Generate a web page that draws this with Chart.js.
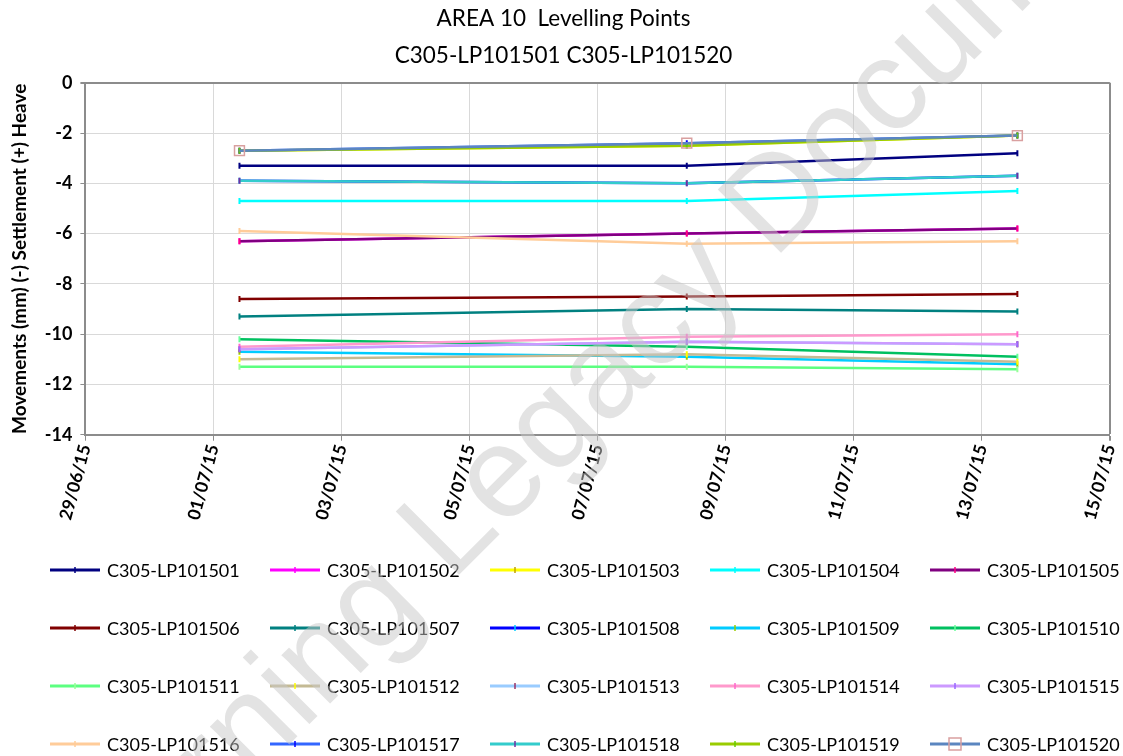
<!DOCTYPE html>
<html>
<head>
<meta charset="utf-8">
<script src="https://cdn.jsdelivr.net/npm/chart.js@4.4.1/dist/chart.umd.min.js"></script>
<style>
html, body { margin: 0; padding: 0; background: #fff; overflow: hidden; }
#wrap { width: 1123px; height: 756px; }
</style>
</head>
<body>
<div id="wrap"><canvas id="chart_1" width="1123" height="756"></canvas></div>
<script>
// survey dates (x) and readings in mm per levelling point
const readDates = ['2015-07-01T09:45:00', '2015-07-08T09:25:00', '2015-07-13T13:20:00'];
const axisStart = '2015-06-29T00:00:00';

const pointNames = [
  'C305-LP101501', 'C305-LP101502', 'C305-LP101503', 'C305-LP101504', 'C305-LP101505',
  'C305-LP101506', 'C305-LP101507', 'C305-LP101508', 'C305-LP101509', 'C305-LP101510',
  'C305-LP101511', 'C305-LP101512', 'C305-LP101513', 'C305-LP101514', 'C305-LP101515',
  'C305-LP101516', 'C305-LP101517', 'C305-LP101518', 'C305-LP101519', 'C305-LP101520'
];

const lp01 = [-3.3, -3.3, -2.8];
const lp02 = [-6.3, -6.0, -5.8];
const lp03 = [-2.7, -2.5, -2.1];
const lp04 = [-4.7, -4.7, -4.3];
const lp05 = [-6.3, -6.0, -5.8];
const lp06 = [-8.6, -8.5, -8.4];
const lp07 = [-9.3, -9.0, -9.1];
const lp08 = [-3.9, -4.0, -3.7];
const lp09 = [-10.7, -10.9, -11.2];
const lp10 = [-10.2, -10.5, -10.9];
const lp11 = [-11.3, -11.3, -11.4];
const lp12 = [-11.0, -10.8, -11.1];
const lp13 = [-10.6, -10.3, -10.4];
const lp14 = [-10.5, -10.1, -10.0];
const lp15 = [-10.6, -10.3, -10.4];
const lp16 = [-5.9, -6.4, -6.3];
const lp17 = [-2.7, -2.4, -2.1];
const lp18 = [-3.9, -4.0, -3.7];
const lp19 = [-2.7, -2.5, -2.1];
const lp20 = [-2.7, -2.4, -2.1];

const seriesValues = [lp01, lp02, lp03, lp04, lp05, lp06, lp07, lp08, lp09, lp10,
                      lp11, lp12, lp13, lp14, lp15, lp16, lp17, lp18, lp19, lp20];

const lineColors = [
  '#000080', '#FF00FF', '#FFFF00', '#00FFFF', '#800080',
  '#800000', '#008080', '#0000FF', '#00CCFF', '#00C060',
  '#5CFF80', '#C4BA94', '#99CCFF', '#FF99CC', '#CC99FF',
  '#FFCC99', '#3366FF', '#33CCCC', '#99CC00', '#5B86C0'
];
const markerColors = [
  '#000080', '#FF00FF', '#C0A000', '#00FFFF', '#FF0080',
  '#800000', '#008080', '#00CCFF', '#99CC00', '#66FF99',
  '#99FF99', '#FFFF00', '#993366', '#FF66CC', '#9966FF',
  '#FFCC99', '#0000FF', '#7030A0', '#66CC00', '#D9A0A0'
];

const DAY = 86400000;
const t0 = Date.parse(axisStart);
const xDays = readDates.map(d => (Date.parse(d) - t0) / DAY);

const fmtDate = v => {
  const d = new Date(t0 + v * DAY);
  const p = n => String(n).padStart(2, '0');
  return p(d.getDate()) + '/' + p(d.getMonth() + 1) + '/' + String(d.getFullYear()).slice(2);
};

const datasets = seriesValues.map((vals, i) => {
  const last = i === seriesValues.length - 1;
  return {
    label: pointNames[i],
    data: vals.map((v, k) => ({x: xDays[k], y: v})),
    borderColor: lineColors[i],
    backgroundColor: lineColors[i],
    borderWidth: 2.5,
    pointStyle: last ? 'rect' : 'line',
    rotation: last ? 0 : 90,
    pointRadius: last ? 7 : 3,
    pointBorderWidth: last ? 1.5 : 2,
    pointBorderColor: markerColors[i],
    pointBackgroundColor: last ? 'rgba(0,0,0,0)' : markerColors[i],
    order: seriesValues.length - i,
    tension: 0
  };
});

const edgeColor = '#8C8C8C';
const gridColor = '#D9D9D9';

// legend laid out as a fixed 5-column grid like the source sheet
const gridLegend = {
  id: 'gridLegend',
  afterDraw(chart) {
    const ctx = chart.ctx;
    ctx.save();
    chart.data.datasets.forEach((ds, i) => {
      const x0 = 50 + 220 * (i % 5);
      const y = 570 + 58 * Math.floor(i / 5);
      ctx.strokeStyle = ds.borderColor;
      ctx.lineWidth = 3;
      ctx.beginPath();
      ctx.moveTo(x0, y);
      ctx.lineTo(x0 + 50, y);
      ctx.stroke();
      ctx.strokeStyle = ds.pointBorderColor;
      ctx.lineWidth = 1.5;
      ctx.beginPath();
      if (ds.pointStyle === 'rect') {
        ctx.rect(x0 + 19, y - 6, 12, 12);
      } else {
        ctx.moveTo(x0 + 25, y - 3);
        ctx.lineTo(x0 + 25, y + 3);
      }
      ctx.stroke();
      ctx.fillStyle = '#000';
      ctx.font = '18px Lato';
      ctx.textBaseline = 'middle';
      ctx.textAlign = 'left';
      ctx.fillText(ds.label, x0 + 57, y + 1);
    });
    ctx.restore();
  }
};

const watermark = {
  id: 'watermark',
  afterDraw(chart) {
    const ctx = chart.ctx;
    ctx.save();
    ctx.translate(605, 378);
    ctx.rotate(-45 * Math.PI / 180);
    ctx.font = '130px "Liberation Sans"';
    ctx.fillStyle = 'rgba(200,200,200,0.5)';
    ctx.textAlign = 'center';
    ctx.textBaseline = 'middle';
    ctx.fillText('Learning Legacy Document', 0, 0);
    ctx.restore();
  }
};

new Chart(document.getElementById('chart_1'), {
  type: 'line',
  data: {datasets: datasets},
  options: {
    responsive: false,
    animation: false,
    layout: {padding: {left: 8, right: 4, top: 0, bottom: 232}},
    plugins: {
      legend: {display: false},
      tooltip: {enabled: false},
      title: {
        display: true,
        text: ['AREA 10  Levelling Points', 'C305-LP101501 C305-LP101520'],
        color: '#000',
        font: {family: 'Lato', size: 22.5, weight: 'normal', lineHeight: 1.64},
        padding: {top: 0, bottom: 9}
      }
    },
    scales: {
      x: {
        type: 'linear',
        min: 0,
        max: 16,
        ticks: {
          stepSize: 2,
          minRotation: 75,
          maxRotation: 75,
          color: '#000',
          font: {family: 'Lato', size: 17.5, weight: 'bold', lineHeight: 0.6},
          callback: v => fmtDate(v)
        },
        grid: {
          color: c => c.tick && c.tick.value === 16 ? edgeColor : gridColor,
          lineWidth: c => c.tick && c.tick.value === 16 ? 2 : 1,
          tickColor: edgeColor,
          tickLength: 6
        },
        border: {color: edgeColor, width: 2}
      },
      y: {
        min: -14,
        max: 0,
        ticks: {
          stepSize: 2,
          color: '#000',
          padding: 8,
          font: {family: 'Lato', size: 18, weight: 'bold'}
        },
        grid: {
          color: c => c.tick && c.tick.value === 0 ? edgeColor : gridColor,
          lineWidth: c => c.tick && c.tick.value === 0 ? 2 : 1,
          tickColor: edgeColor,
          tickLength: 5
        },
        border: {color: edgeColor, width: 2},
        title: {
          display: true,
          text: 'Movements (mm) (-) Settlement (+) Heave',
          color: '#000',
          font: {family: 'Lato', size: 19, weight: 'bold'},
          padding: {top: 0, bottom: 6}
        }
      }
    }
  },
  plugins: [gridLegend, watermark]
});
</script>
</body>
</html>
